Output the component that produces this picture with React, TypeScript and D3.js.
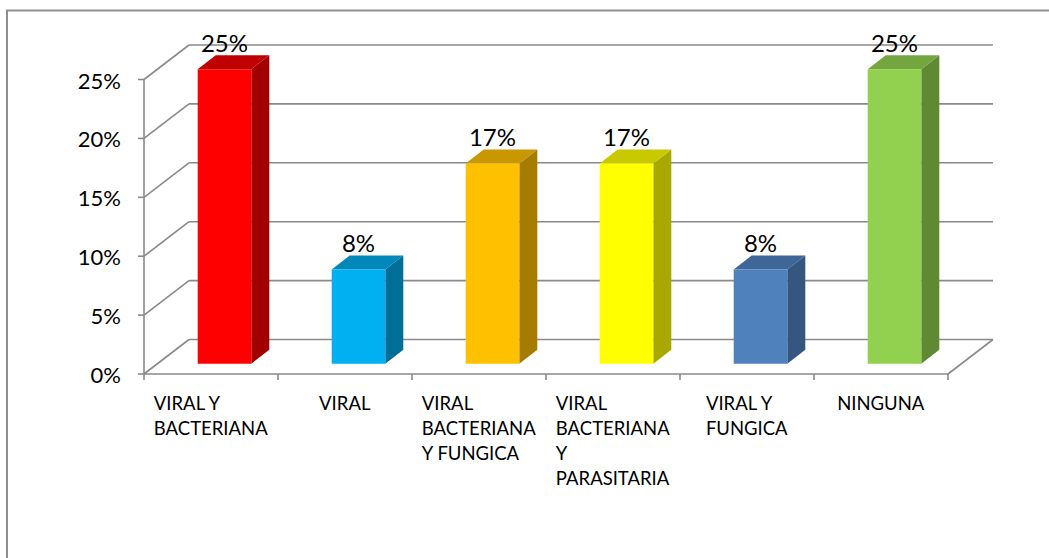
import React, { useEffect, useRef } from "react";
import * as d3 from "d3";

// Chart data
const categories = [
  "VIRAL Y BACTERIANA",
  "VIRAL",
  "VIRAL BACTERIANA Y FUNGICA",
  "VIRAL BACTERIANA Y PARASITARIA",
  "VIRAL Y FUNGICA",
  "NINGUNA",
];
const categoryLines = [
  ["VIRAL Y", "BACTERIANA"],
  ["VIRAL"],
  ["VIRAL", "BACTERIANA", "Y FUNGICA"],
  ["VIRAL", "BACTERIANA", "Y", "PARASITARIA"],
  ["VIRAL Y", "FUNGICA"],
  ["NINGUNA"],
];
const values = [0.25, 0.08, 0.17, 0.17, 0.08, 0.25];
const yTicks = [0, 0.05, 0.1, 0.15, 0.2, 0.25];

// Per-bar shading: front face, top face, right side face
const faceColors = ["#FF0000", "#00B0F0", "#FFC000", "#FFFF00", "#4F81BD", "#92D050"];
const topColors = ["#C00000", "#0088BA", "#C99700", "#C9C900", "#3E6698", "#74A640"];
const sideColors = ["#A20000", "#006F98", "#A67C00", "#A8A800", "#35577F", "#5F8A33"];

const W = 1049;
const H = 558;
const FONT = "Lato, 'Open Sans', sans-serif";

export default function App() {
  const ref = useRef<SVGSVGElement | null>(null);

  useEffect(() => {
    const svg = d3.select(ref.current);
    svg.selectAll("*").remove();

    // Front plane geometry and depth offset of the 3D box
    const x0 = 144;
    const x1 = 948;
    const DX = 45;
    const DY = 34.5;
    const zFront = 0.3;
    const zBack = 0.7;

    const y = d3.scaleLinear().domain([0, 0.25]).range([374, 79.5]);
    const x = d3
      .scaleBand<string>()
      .domain(categories)
      .range([x0, x1])
      .paddingInner(0.6)
      .paddingOuter(0.3);

    const P = (px: number, v: number, z: number): [number, number] => [
      px + DX * z,
      y(v) - DY * z,
    ];
    const grid = "#8a8a8a";

    // Outer chart border
    svg
      .append("rect")
      .attr("x", 7)
      .attr("y", 10.5)
      .attr("width", W + 20)
      .attr("height", H + 20)
      .attr("fill", "none")
      .attr("stroke", "#8e8e8e")
      .attr("stroke-width", 2);

    const g = svg.append("g");

    // Back wall gridlines and side wall diagonals
    yTicks.forEach((t) => {
      const [bx0, by] = P(x0, t, 1);
      const [bx1] = P(x1, t, 1);
      g.append("line")
        .attr("x1", bx0).attr("y1", by).attr("x2", bx1).attr("y2", by)
        .attr("stroke", grid).attr("stroke-width", 1.6);
      const [fx, fy] = P(x0, t, 0);
      g.append("line")
        .attr("x1", fx).attr("y1", fy).attr("x2", bx0).attr("y2", by)
        .attr("stroke", grid).attr("stroke-width", 1.6);
    });

    // Floor front and right edges
    const [fl0x, fl0y] = P(x0, 0, 0);
    const [fr0x, fr0y] = P(x1, 0, 0);
    const [fr1x, fr1y] = P(x1, 0, 1);
    g.append("line")
      .attr("x1", fl0x).attr("y1", fl0y).attr("x2", fr0x).attr("y2", fr0y)
      .attr("stroke", grid).attr("stroke-width", 1.6);
    g.append("line")
      .attr("x1", fr0x).attr("y1", fr0y).attr("x2", fr1x).attr("y2", fr1y)
      .attr("stroke", grid).attr("stroke-width", 1.6);

    // Vertical value axis with tick marks and labels
    g.append("line")
      .attr("x1", x0).attr("y1", y(0.25)).attr("x2", x0).attr("y2", y(0))
      .attr("stroke", grid).attr("stroke-width", 1.6);
    const fmt = d3.format(".0%");
    yTicks.forEach((t) => {
      g.append("line")
        .attr("x1", x0 - 6).attr("y1", y(t)).attr("x2", x0).attr("y2", y(t))
        .attr("stroke", grid).attr("stroke-width", 1.6);
      g.append("text")
        .attr("x", 121)
        .attr("y", y(t) + 9)
        .attr("text-anchor", "end")
        .attr("font-family", FONT)
        .attr("font-size", 22)
        .attr("fill", "#000")
        .text(fmt(t));
    });

    // Category tick marks at slot boundaries
    const step = x.step();
    d3.range(categories.length + 1).forEach((i) => {
      const tx = x0 + i * step;
      g.append("line")
        .attr("x1", tx).attr("y1", y(0)).attr("x2", tx).attr("y2", y(0) + 6)
        .attr("stroke", grid).attr("stroke-width", 1.6);
    });

    // 3D columns
    categories.forEach((c, i) => {
      const v = values[i];
      const xl = x(c) as number;
      const xr = xl + x.bandwidth();
      const poly = (pts: [number, number][]) => pts.map((p) => p.join(",")).join(" ");

      const front = [P(xl, 0, zFront), P(xr, 0, zFront), P(xr, v, zFront), P(xl, v, zFront)];
      const side = [P(xr, 0, zFront), P(xr, 0, zBack), P(xr, v, zBack), P(xr, v, zFront)];
      const top = [P(xl, v, zFront), P(xr, v, zFront), P(xr, v, zBack), P(xl, v, zBack)];

      g.append("polygon").attr("points", poly(side)).attr("fill", sideColors[i]);
      g.append("polygon").attr("points", poly(top)).attr("fill", topColors[i]);
      g.append("polygon").attr("points", poly(front)).attr("fill", faceColors[i]);

      const cx = (xl + xr) / 2 + DX * zFront;
      const [, topBackY] = P(xl, v, zBack);
      g.append("text")
        .attr("x", cx)
        .attr("y", topBackY - 3.5)
        .attr("text-anchor", "middle")
        .attr("font-family", FONT)
        .attr("font-size", 24)
        .attr("fill", "#000")
        .text(fmt(v));
    });

    // Wrapped category labels: block centred on the slot, lines left-aligned
    categories.forEach((c, i) => {
      const center = x0 + step * (i + 0.5);
      const lab = g.append("g");
      categoryLines[i].forEach((line, j) => {
        lab.append("text")
          .attr("x", 0)
          .attr("y", 410 + j * 25)
          .attr("font-family", FONT)
          .attr("font-size", 18.5)
          .attr("fill", "#000")
          .text(line);
      });
      const node = lab.node() as SVGGElement;
      const bw = node.getBBox().width;
      lab.attr("transform", `translate(${center - bw / 2},0)`);
    });
  }, []);

  return (
    <svg
      ref={ref}
      width={W}
      height={H}
      style={{ position: "absolute", left: 0, top: 0, background: "#fff" }}
    />
  );
}
